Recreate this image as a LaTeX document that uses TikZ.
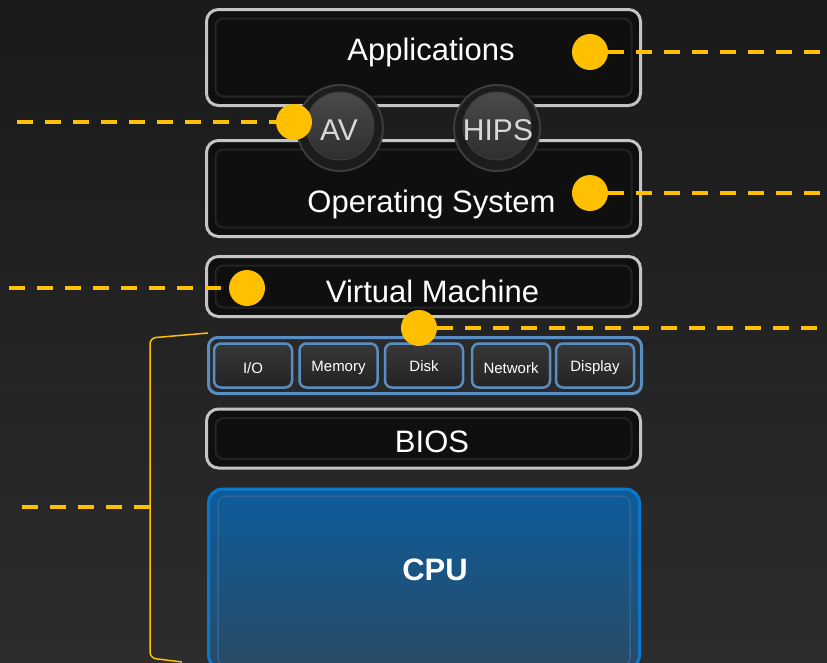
\documentclass[tikz,border=0pt]{standalone}
\usepackage{fontspec}
\setmainfont{Liberation Sans}

\definecolor{gelb}{HTML}{FFC000}
\definecolor{hgoben}{HTML}{1A1A1A}
\definecolor{hgunten}{HTML}{2C2C2C}
\definecolor{rahmen}{HTML}{C4C4C4}
\definecolor{fuellung}{HTML}{0F0F0F}
\definecolor{innenrand}{HTML}{242424}
\definecolor{knopfrand}{HTML}{3C3C3C}
\definecolor{knopfdunkel}{HTML}{1C1C1C}
\definecolor{knopfhell}{HTML}{4A4A4A}
\definecolor{knopfmitte}{HTML}{2E2E2E}
\definecolor{blaurand}{HTML}{5A8EC2}
\definecolor{leistegrau}{HTML}{2A2A2A}
\definecolor{geraetgrau}{HTML}{232323}
\definecolor{cpurand}{HTML}{0A78CC}
\definecolor{cpuoben}{HTML}{0C5C9C}
\definecolor{cpumitte}{HTML}{1E4A72}
\definecolor{cpuunten}{HTML}{2A4A64}
\definecolor{cpuinnen}{HTML}{2F6698}

\tikzset{
	schicht/.style={draw=rahmen, line width=3pt, fill=fuellung, rounded corners=12pt,
		minimum width=434pt, inner sep=0pt},
	innen/.style={draw=innenrand, line width=2pt, rounded corners=8pt,
		minimum width=416pt, inner sep=0pt},
	titel/.style={text=white, font=\fontsize{31}{36}\selectfont, inner sep=0pt},
	knopf/.style={circle, minimum size=86pt, inner sep=0pt, draw=knopfrand,
		line width=2pt, fill=knopfdunkel},
	knopfinnen/.style={circle, minimum size=68pt, inner sep=0pt, draw=knopfrand,
		line width=1pt, top color=knopfhell, bottom color=knopfmitte},
	knopftext/.style={text=black!15, font=\fontsize{30}{36}\selectfont, inner sep=0pt},
	leiste/.style={draw=blaurand, line width=3pt, fill=leistegrau, rounded corners=9pt,
		minimum width=433pt, minimum height=56pt, inner sep=0pt},
	geraet/.style={draw=blaurand, line width=2.5pt, rounded corners=7pt,
		top color=black!78, bottom color=geraetgrau,
		minimum width=78pt, minimum height=44pt, inner sep=0pt},
	geraettext/.style={text=white, font=\fontsize{15}{18}\selectfont, inner sep=0pt},
	cpu/.style={draw=cpurand, line width=3pt, rounded corners=14pt,
		top color=cpuoben, middle color=cpumitte, bottom color=cpuunten,
		minimum width=431pt, minimum height=180pt, inner sep=0pt},
	cpuinnen/.style={draw=cpuinnen, line width=1.5pt, rounded corners=8pt,
		minimum width=412pt, minimum height=170pt, inner sep=0pt},
	punkt/.style={circle, fill=gelb, minimum size=36pt, inner sep=0pt},
	strich/.style={draw=gelb, line width=4pt, dash pattern=on 16pt off 12pt},
	klammer/.style={draw=gelb, line width=1.5pt, rounded corners=6pt}
}

\begin{document}
\begin{tikzpicture}[x=1pt, y=-1pt]
	% Hintergrund
	\useasboundingbox (0,0) rectangle (827,662);
	\shade[top color=hgoben, bottom color=hgunten] (0,0) rectangle (827,662);
	\begin{scope}
	\clip (0,0) rectangle (827,662);
	% Schichten
	\foreach \name/\y/\h in {app/57.5/96, os/188.5/96, vm/286.5/60, bios/438.5/59}{
		\node[schicht, minimum height=\h pt] (\name) at (423.5,\y) {};
		\node[innen, minimum height=\h pt-18pt] (\name-in) at (423.5,\y) {};
	}
	% Knoepfe AV und HIPS
	\node[knopf] (av) at (340,128) {};
	\node[knopfinnen] (av-in) at (340,126) {};
	\node[knopf] (hips) at (497,128) {};
	\node[knopfinnen] (hips-in) at (497,126) {};
	% Geraeteleiste
	\node[leiste] (leiste) at (425,365.5) {};
	\foreach \name/\x/\ty/\text in {io/253/368/{I/O}, mem/338.5/368/Memory,
		disk/424/366/Disk, net/511/368/Network, disp/595/368/Display}{
		\node[geraet] (\name) at (\x,365.5) {};
		\node[geraettext] (t\name) at (\x,\ty) {\text};
	}
	% CPU
	\node[cpu] (cpu) at (424,579) {};
	\node[cpuinnen] (cpu-in) at (424,581) {};
	\end{scope}
	% Texte
	\node[titel] (tapp) at (431,52) {Applications};
	\node[titel] (tos) at (431.5,204) {Operating System};
	\node[titel] (tvm) at (432.5,291) {Virtual Machine};
	\node[titel] (tbios) at (432,442) {BIOS};
	\node[knopftext] (tav) at (339,130) {AV};
	\node[knopftext] (thips) at (498,130) {HIPS};
	\node[titel, font=\fontsize{31}{36}\selectfont\bfseries] (tcpu) at (435,570) {CPU};
	% Klammer
	\coordinate (kloben) at (208,333);
	\coordinate (klmitte) at (150,507);
	\coordinate (klunten) at (182,662);
	\draw[klammer] (kloben) -- (150,338) -- (150,658) -- (klunten);
	% Punkte
	\node[punkt] (papp) at (590,52) {};
	\node[punkt] (pos) at (590,193) {};
	\node[punkt] (pav) at (294,122) {};
	\node[punkt] (pvm) at (247,288) {};
	\node[punkt] (pdisk) at (419,328) {};
	% Enden der Linien
	\coordinate (eapp) at (840,52);
	\coordinate (eos) at (840,193);
	\coordinate (eav) at (17,122);
	\coordinate (evm) at (9,288);
	\coordinate (edisk) at (840,328);
	\coordinate (eklammer) at (22,507);
	% Gestrichelte Linien
	\begin{scope}
	\clip (0,0) rectangle (827,662);
	\draw[strich] (papp) -- (eapp);
	\draw[strich] (pos) -- (eos);
	\draw[strich] (eav) -- (pav);
	\draw[strich] (evm) -- (pvm);
	\draw[strich] (pdisk) -- (edisk);
	\draw[strich] (eklammer) -- (klmitte);
	\end{scope}
\end{tikzpicture}
\end{document}
